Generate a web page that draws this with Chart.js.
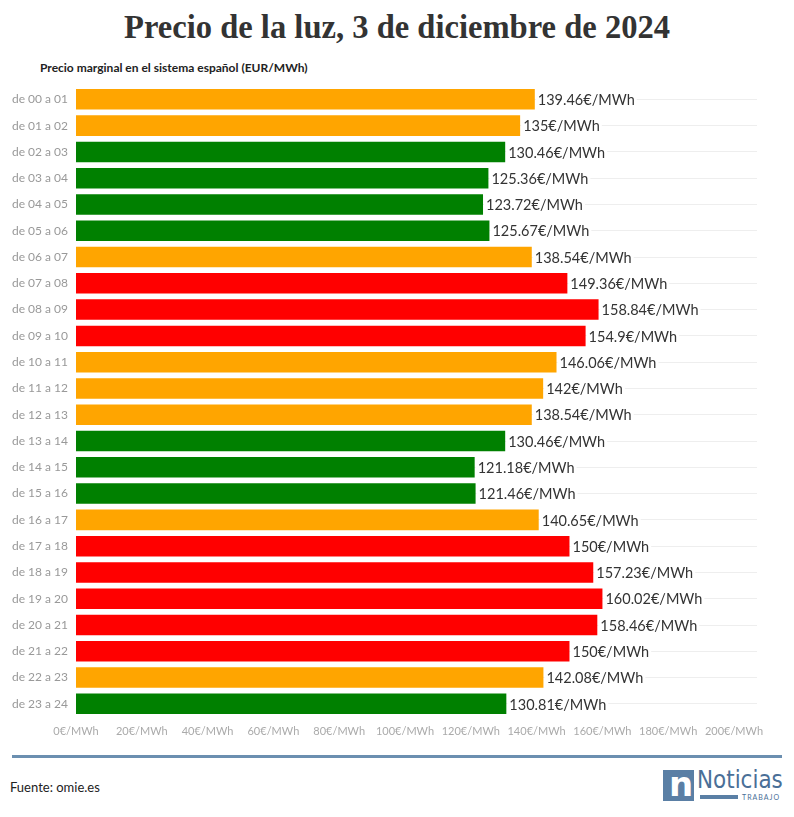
<!DOCTYPE html>
<html>
<head>
<meta charset="utf-8">
<script src="https://cdn.jsdelivr.net/npm/chart.js@4/dist/chart.umd.min.js"></script>
<style>
    html, body { margin: 0; padding: 0; background: #fff; }
    body { width: 794px; height: 817px; position: relative; overflow: hidden; font-family: Lato, "Open Sans", sans-serif; }
    #titulo { position: absolute; top: 8px; left: 0; width: 794px; text-align: center; font-family: "Liberation Serif", serif; font-weight: bold; font-size: 34px; color: #333; white-space: nowrap; }
    #titulo span { display: inline-block; transform-origin: center; }
    #subtitulo { position: absolute; top: 60px; left: 40px; font-weight: bold; font-size: 12px; color: #222; }
    #grafico { position: absolute; top: 71px; left: 0; width: 794px; height: 679px; }
    #linea { position: absolute; top: 755px; left: 12px; width: 770px; height: 3px; background: #6b8fb0; }
    #fuente { position: absolute; top: 779px; left: 10px; font-size: 13px; color: #222; }
    #logo { position: absolute; top: 769px; left: 663px; width: 122px; height: 34px; }
    #logo .cuadro { position: absolute; left: 0; top: 1px; width: 31px; height: 31px; background: #5a7fa5; }
    #logo .cuadro span { position: absolute; left: 6px; top: -6px; color: #fff; font-size: 34px; font-weight: bold; font-family: "DejaVu Sans", sans-serif; }
    #logo .nombre { position: absolute; left: 34px; top: -4px; font-size: 25px; color: #4a6f97; font-family: "DejaVu Sans Condensed", "DejaVu Sans", sans-serif; white-space: nowrap; transform-origin: left top; }
    #logo .barra { position: absolute; left: 37px; top: 26px; width: 38px; height: 4px; background: #5a7fa5; }
    #logo .trabajo { position: absolute; left: 79px; top: 24px; font-size: 7px; line-height: 8px; color: #4a6f97; letter-spacing: 1px; }
</style>
</head>
<body>
<div id="titulo"><span>Precio de la luz, 3 de diciembre de 2024</span></div>
<div id="subtitulo">Precio marginal en el sistema español (EUR/MWh)</div>
<div id="grafico"><canvas id="precioChart" width="794" height="679"></canvas></div>
<div id="linea"></div>
<div id="fuente">Fuente: omie.es</div>
<div id="logo">
    <div class="cuadro"><span>n</span></div>
    <div class="nombre">Noticias</div>
    <div class="barra"></div>
    <div class="trabajo">TRABAJO</div>
</div>
<script>
// datos del gráfico
const horas = [
    "de 00 a 01", "de 01 a 02", "de 02 a 03", "de 03 a 04", "de 04 a 05", "de 05 a 06",
    "de 06 a 07", "de 07 a 08", "de 08 a 09", "de 09 a 10", "de 10 a 11", "de 11 a 12",
    "de 12 a 13", "de 13 a 14", "de 14 a 15", "de 15 a 16", "de 16 a 17", "de 17 a 18",
    "de 18 a 19", "de 19 a 20", "de 20 a 21", "de 21 a 22", "de 22 a 23", "de 23 a 24"
];
const precios = [
    139.46, 135, 130.46, 125.36, 123.72, 125.67,
    138.54, 149.36, 158.84, 154.9, 146.06, 142,
    138.54, 130.46, 121.18, 121.46, 140.65, 150,
    157.23, 160.02, 158.46, 150, 142.08, 130.81
];
const tramos = [
    "medio", "medio", "bajo", "bajo", "bajo", "bajo",
    "medio", "alto", "alto", "alto", "medio", "medio",
    "medio", "bajo", "bajo", "bajo", "medio", "alto",
    "alto", "alto", "alto", "alto", "medio", "bajo"
];
const ticksX = [0, 20, 40, 60, 80, 100, 120, 140, 160, 180, 200];

const coloresTramo = { bajo: "#008000", medio: "#FFA500", alto: "#FF0000" };

// ajustar anchos de título y logo
const tituloSpan = document.querySelector("#titulo span");
tituloSpan.style.transform = "scaleX(" + (546 / tituloSpan.offsetWidth) + ")";
const nombreLogo = document.querySelector("#logo .nombre");
nombreLogo.style.transform = "scaleX(" + (86 / nombreLogo.offsetWidth) + ")";

// etiquetas de valor al final de cada barra
const etiquetasValor = {
    id: "etiquetasValor",
    afterDatasetsDraw(chart) {
        const ctx = chart.ctx;
        const meta = chart.getDatasetMeta(0);
        ctx.save();
        ctx.font = "14.5px Lato";
        ctx.textAlign = "left";
        ctx.textBaseline = "middle";
        meta.data.forEach((bar, i) => {
            const texto = precios[i] + "€/MWh";
            const w = ctx.measureText(texto).width;
            ctx.fillStyle = "#fff";
            ctx.fillRect(bar.x + 1, bar.y - 9, w + 4, 18);
            ctx.fillStyle = "#333";
            ctx.fillText(texto, bar.x + 3, bar.y + 1);
        });
        ctx.restore();
    }
};

const ctxPrecio = document.getElementById("precioChart").getContext("2d");
const precioChart = new Chart(ctxPrecio, {
    type: "bar",
    data: {
        labels: horas,
        datasets: [{
            data: precios,
            backgroundColor: tramos.map(t => coloresTramo[t]),
            barPercentage: 0.78,
            categoryPercentage: 1
        }]
    },
    options: {
        indexAxis: "y",
        responsive: false,
        maintainAspectRatio: false,
        animation: false,
        layout: { padding: { top: 6, right: 37, left: 0, bottom: 0 } },
        plugins: {
            legend: { display: false },
            tooltip: { enabled: false }
        },
        scales: {
            x: {
                min: 0,
                max: 207,
                afterBuildTicks(scale) {
                    scale.ticks = ticksX.map(v => ({ value: v }));
                },
                afterFit(scale) { scale.height = 33; },
                grid: { display: false },
                border: { display: false },
                ticks: {
                    padding: 0,
                    autoSkip: false,
                    color: "#aaa",
                    font: { family: "Lato", size: 11 },
                    maxRotation: 0,
                    callback: v => v + "€/MWh"
                }
            },
            y: {
                afterFit(scale) { scale.width = 76; },
                grid: { offset: false, color: "#eeeeee", drawTicks: false, lineWidth: 1 },
                border: { display: false },
                ticks: {
                    padding: 8,
                    autoSkip: false,
                    color: "#999",
                    font: { family: "Lato", size: 12 }
                }
            }
        }
    },
    plugins: [etiquetasValor]
});
</script>
</body>
</html>
